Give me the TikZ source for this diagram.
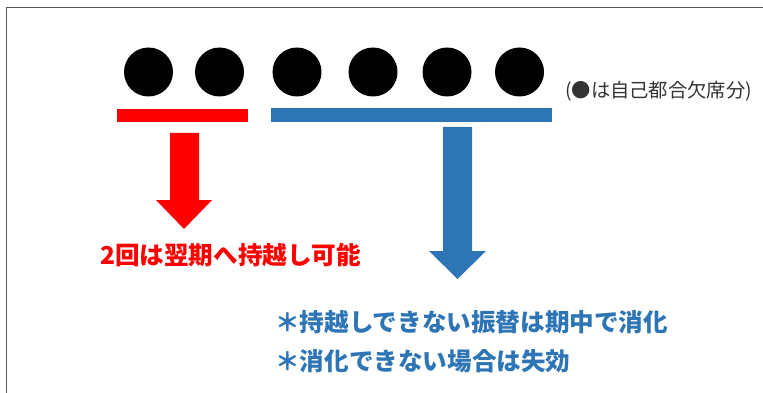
\documentclass[tikz,border=0pt]{standalone}
\usepackage{fontspec}
\newfontfamily\jpfont{Noto Sans CJK JP}
\definecolor{kyuured}{HTML}{FF0000}
\definecolor{kyuublue}{HTML}{2E75B6}
\definecolor{framegray}{HTML}{5A5A5A}
\begin{document}
\begin{tikzpicture}[x=1pt,y=-1pt,
        dot/.style={circle, fill=black, minimum size=49pt, inner sep=0pt},
        note/.style={anchor=west, inner sep=0pt, font=\jpfont\fontsize{19.3}{23}\selectfont, text=black!80},
        redtxt/.style={anchor=west, inner sep=0pt, font=\jpfont\bfseries\fontsize{24.6}{28}\selectfont, text=kyuured},
        bluetxt/.style={anchor=west, inner sep=0pt, font=\jpfont\bfseries\fontsize{24.6}{28}\selectfont, text=kyuublue}]
        \useasboundingbox (0,0) rectangle (763,393);
        % frame
        \draw[framegray, line width=1.5pt] (6.5,393) -- (6.5,7.5) -- (763,7.5);
        % absences
        \foreach \i/\xx in {1/148.5,2/219.5,3/297,4/373,5/447,6/519.5}
            \node[dot] (c\i) at (\xx,72) {};
        \node[note] (legend) at (565,91) {(●は自己都合欠席分)};
        % bars
        \fill[kyuured] (117,109) rectangle (248,122);
        \fill[kyuublue] (271,108) rectangle (552,122);
        % arrows
        \fill[kyuured] (170,133) -- (199,133) -- (199,200) -- (212,200) -- (184,229) -- (156,200) -- (170,200) -- cycle;
        \fill[kyuublue] (443,127) -- (472,127) -- (472,251) -- (486,251) -- (457.5,279) -- (429,251) -- (443,251) -- cycle;
        % texts
        \node[redtxt] (carry) at (100,255) {2回は翌期へ持越し可能};
        \node[bluetxt] (digest) at (275,322) {＊持越しできない振替は期中で消化};
        \node[bluetxt] (lapse) at (275,361) {＊消化できない場合は失効};
\end{tikzpicture}
\end{document}
